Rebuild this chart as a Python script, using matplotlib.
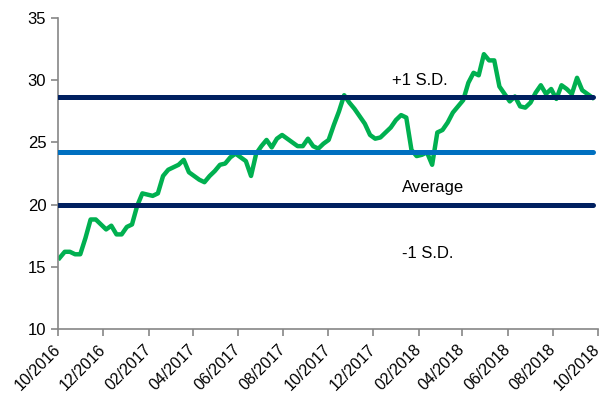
import numpy as np
import pandas as pd
import matplotlib
matplotlib.use('Agg')
import matplotlib.pyplot as plt
import matplotlib.dates as mdates

plt.rcParams['font.family'] = ['Liberation Sans', 'DejaVu Sans']

# weekly readings, Oct 2016 - Sep 2018
dates = pd.date_range('2016-10-03', periods=104, freq='7D')
values = [
    15.7, 16.2, 16.2, 16.0, 16.0, 17.3, 18.8, 18.8, 18.4, 18.0,
    18.3, 17.6, 17.6, 18.2, 18.4, 19.9, 20.9, 20.8, 20.7, 20.9,
    22.3, 22.8, 23.0, 23.2, 23.6, 22.6, 22.3, 22.0, 21.8, 22.3,
    22.7, 23.2, 23.3, 23.8, 24.1, 23.8, 23.5, 22.3, 24.1, 24.7,
    25.2, 24.6, 25.3, 25.6, 25.3, 25.0, 24.7, 24.7, 25.3, 24.7,
    24.5, 24.9, 25.2, 26.4, 27.5, 28.8, 28.2, 27.7, 27.1, 26.5,
    25.6, 25.3, 25.4, 25.8, 26.2, 26.8, 27.2, 27.0, 24.4, 23.9,
    24.0, 24.2, 23.2, 25.8, 26.0, 26.6, 27.4, 27.9, 28.4, 29.8,
    30.6, 30.4, 32.1, 31.6, 31.6, 29.5, 28.9, 28.3, 28.7, 27.9,
    27.8, 28.2, 29.0, 29.6, 28.9, 29.3, 28.5, 29.6, 29.3, 28.9,
    30.2, 29.2, 28.9, 28.6,
]
average = 24.25
plus_sd = 28.65
minus_sd = 20.0

x_start = pd.Timestamp('2016-10-01')
x_end = pd.Timestamp('2018-10-01')
tick_dates = pd.date_range(x_start, x_end, freq='2MS')

fig = plt.figure(figsize=(6.05, 4.03), dpi=100)
ax = fig.add_axes([0.096, 0.184, 0.892, 0.771])

ax.plot(dates, values, color='#00B050', lw=3.2, solid_joinstyle='round', zorder=2)

line_x = [x_start, dates[-1]]
ax.plot(line_x, [plus_sd, plus_sd], color='#002060', lw=3.6, solid_capstyle='round', zorder=3)
ax.plot(line_x, [average, average], color='#0070C0', lw=3.6, solid_capstyle='round', zorder=3)
ax.plot(line_x, [minus_sd, minus_sd], color='#002060', lw=3.6, solid_capstyle='round', zorder=3)

ax.text(pd.Timestamp('2017-12-27'), 30.0, '+1 S.D.', fontsize=12, va='center', ha='left')
ax.text(pd.Timestamp('2018-01-09'), 21.4, 'Average', fontsize=12, va='center', ha='left')
ax.text(pd.Timestamp('2018-01-09'), 16.1, '-1 S.D.', fontsize=12, va='center', ha='left')

ax.set_xlim(x_start, x_end)
ax.set_ylim(10, 35)
ax.set_yticks(np.arange(10, 36, 5))
ax.set_xticks(tick_dates)
ax.xaxis.set_major_formatter(mdates.DateFormatter('%m/%Y'))
plt.setp(ax.get_xticklabels(), rotation=45, ha='right', va='center', rotation_mode='anchor')

for s in ['top', 'right']:
    ax.spines[s].set_visible(False)
for s in ['left', 'bottom']:
    ax.spines[s].set_color('#868686')
    ax.spines[s].set_linewidth(1.2)
ax.tick_params(axis='both', colors='#868686', length=5, width=1.2, labelsize=12, labelcolor='black')
ax.tick_params(axis='x', labelsize=11.5, pad=8)

plt.savefig('out.png', dpi=100)
plt.close()
